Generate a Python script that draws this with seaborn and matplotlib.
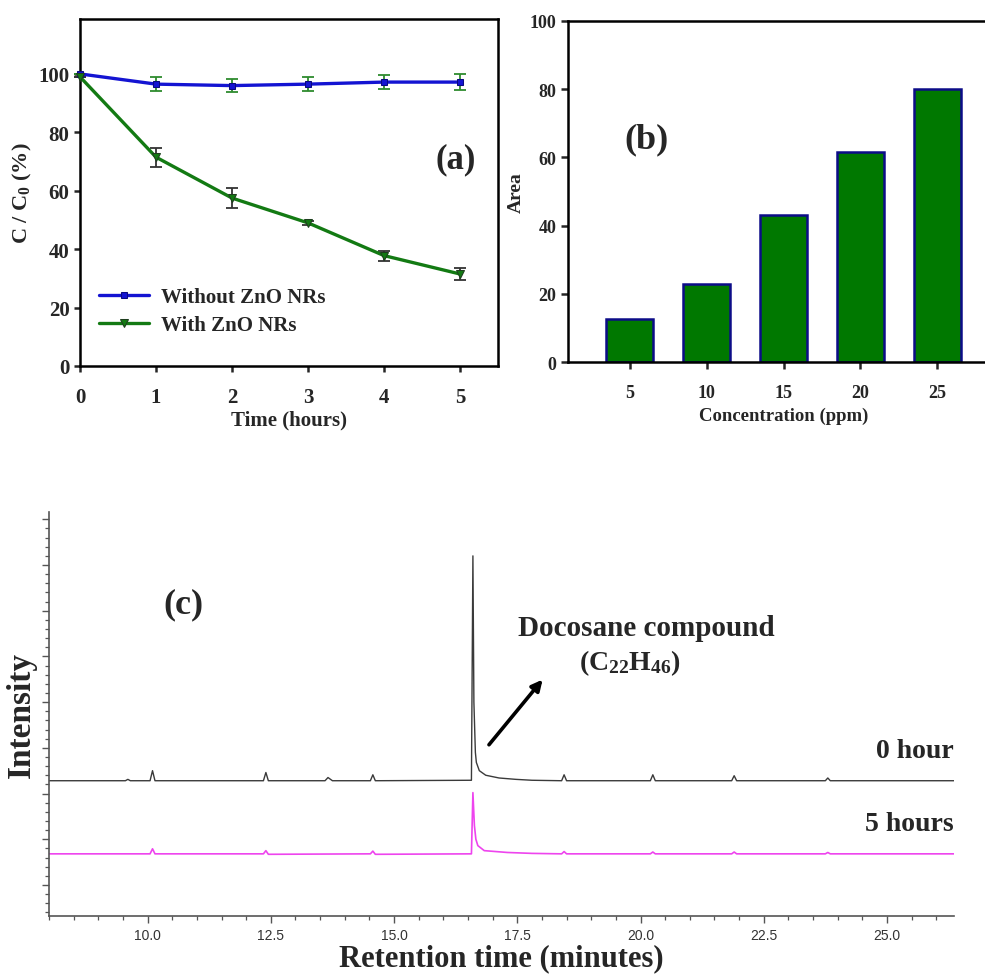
import matplotlib
matplotlib.use("Agg")
import matplotlib.pyplot as plt
from matplotlib.ticker import MultipleLocator, FormatStrFormatter
import seaborn as sns

# (a) photocatalytic degradation
hours = [0, 1, 2, 3, 4, 5]
without_zno = [100, 96.5, 96.0, 96.5, 97.2, 97.2]
without_err = [0, 2.5, 2.3, 2.5, 2.3, 2.7]
with_zno = [99.0, 71.5, 57.5, 49.0, 37.8, 31.5]
with_err = [0, 3.2, 3.5, 0.8, 1.7, 2.2]

# (b) calibration
conc_labels = ["5", "10", "15", "20", "25"]
area = [12.5, 23.0, 43.0, 61.5, 80.0]

# (c) chromatograms (intensity in arbitrary units)
t_0h = [8.0, 9.55, 9.6, 9.65, 10.05, 10.1, 10.15, 12.35, 12.4, 12.45, 13.6, 13.66,
        13.75, 14.52, 14.57, 14.62, 16.57, 16.6, 16.62, 16.65, 16.67, 16.73, 16.86,
        17.13, 17.47, 17.8, 18.4, 18.45, 18.5, 20.2, 20.25, 20.3, 21.85, 21.9, 21.95,
        23.75, 23.8, 23.85, 26.36]
i_0h = [11.4, 11.4, 11.55, 11.4, 11.4, 12.5, 11.4, 11.4, 12.3, 11.4, 11.4, 11.75,
        11.4, 11.4, 12.05, 11.4, 11.45, 36.0, 20.0, 14.5, 13.4, 12.5, 12.0,
        11.7, 11.55, 11.45, 11.4, 12.05, 11.4, 11.4, 12.05, 11.4, 11.4, 11.95, 11.4,
        11.4, 11.7, 11.4, 11.4]
t_5h = [8.0, 10.05, 10.1, 10.15, 12.35, 12.4, 12.45, 14.52, 14.57, 14.62, 16.57,
        16.6, 16.63, 16.66, 16.7, 16.83, 17.3, 17.8, 18.4, 18.45, 18.5, 20.2, 20.25,
        20.3, 21.85, 21.9, 21.95, 23.75, 23.8, 23.85, 26.36]
i_5h = [3.4, 3.4, 3.95, 3.4, 3.4, 3.75, 3.35, 3.4, 3.7, 3.35, 3.4,
        10.1, 6.5, 5.0, 4.3, 3.75, 3.55, 3.45, 3.4, 3.65, 3.4, 3.4, 3.6,
        3.4, 3.4, 3.6, 3.4, 3.4, 3.55, 3.4, 3.4]

sns.set_theme(style="ticks")
plt.rcParams["font.family"] = ["Liberation Serif", "DejaVu Serif"]
plt.rcParams["font.weight"] = "bold"
plt.rcParams["axes.labelweight"] = "bold"
plt.rcParams["mathtext.fontset"] = "custom"
plt.rcParams["mathtext.rm"] = "Liberation Serif:bold"
plt.rcParams["mathtext.it"] = "Liberation Serif:bold"
plt.rcParams["mathtext.bf"] = "Liberation Serif:bold"
plt.rcParams["mathtext.default"] = "rm"

W, H = 985, 979
fig = plt.figure(figsize=(W / 100, H / 100), dpi=100)


def box(l, t, r, b):
    return [l / W, 1 - b / H, (r - l) / W, (b - t) / H]


blue = "#1414d2"
green = "#137a13"

# ---------- (a) ----------
ax = fig.add_axes(box(80, 20, 498, 367))
ax.errorbar(hours, without_zno, yerr=without_err, fmt="none", ecolor="#2e8b2e",
            elinewidth=1.3, capsize=4, capthick=1.3, zorder=2)
ax.errorbar(hours, with_zno, yerr=with_err, fmt="none", ecolor="#333333",
            elinewidth=1.3, capsize=4, capthick=1.3, zorder=2)
sns.lineplot(x=hours, y=without_zno, ax=ax, color=blue, lw=2.4, marker="s",
             markersize=5, markeredgecolor="#0a0a80", label="Without ZnO NRs",
             estimator=None, zorder=3)
sns.lineplot(x=hours, y=with_zno, ax=ax, color=green, lw=2.4, marker="v",
             markersize=6, markeredgecolor="#1e3e1e", label="With ZnO NRs",
             estimator=None, zorder=3)
for ln in ax.lines:
    ln.set_clip_on(False)
ax.set_xlim(0, 5.5)
ax.set_ylim(0, 118.8)
ax.set_xticks(hours)
ax.set_yticks([0, 20, 40, 60, 80, 100])
ax.tick_params(direction="out", length=4, width=1.8, labelsize=15, top=False, right=False)
ax.tick_params(axis="x", pad=11)
for s in ax.spines.values():
    s.set_visible(True)
    s.set_linewidth(1.8)
    s.set_color("black")
ax.set_xlabel("Time (hours)", fontsize=15, labelpad=2)
ax.set_ylabel("C / C$_0$ (%)", fontsize=16, labelpad=3)
ax.text(4.94, 70.9, "(a)", fontsize=25, fontweight="bold", ha="center", va="center")
ax.legend(loc="center left", bbox_to_anchor=(0.045, 0.158), frameon=False,
          fontsize=15, handlelength=2.4, handletextpad=0.6, borderpad=0,
          borderaxespad=0, labelspacing=0.4)

# ---------- (b) ----------
axb = fig.add_axes(box(568, 22, 999, 363))
sns.barplot(x=conc_labels, y=area, ax=axb, color="#007800", saturation=1,
            edgecolor="#0c0c88", linewidth=1.8, width=0.6)
axb.set_xlim(-0.8, 4.8)
axb.set_ylim(0, 100)
axb.set_yticks([0, 20, 40, 60, 80, 100])
axb.tick_params(direction="out", length=5, width=1.8, labelsize=13, top=False, right=False)
axb.tick_params(axis="x", pad=11)
for s in axb.spines.values():
    s.set_visible(True)
    s.set_linewidth(1.8)
    s.set_color("black")
axb.set_xlabel("Concentration (ppm)", fontsize=13.5, labelpad=4)
axb.set_ylabel("Area", fontsize=14, labelpad=3)
axb.text(0.22, 65.4, "(b)", fontsize=26, fontweight="bold", ha="center", va="center")

# ---------- (c) ----------
axc = fig.add_axes(box(49, 513, 954, 917))
sns.lineplot(x=t_0h, y=i_0h, ax=axc, color="#3a3a3a", lw=1.0, estimator=None)
sns.lineplot(x=t_5h, y=i_5h, ax=axc, color="#ee44ee", lw=1.2, estimator=None)
axc.set_xlim(8.0, 26.36)
axc.set_ylim(-3.4, 40.8)
axc.xaxis.set_major_locator(MultipleLocator(2.5))
axc.xaxis.set_minor_locator(MultipleLocator(0.5))
axc.xaxis.set_major_formatter(FormatStrFormatter("%.1f"))
axc.yaxis.set_major_locator(MultipleLocator(5))
axc.yaxis.set_minor_locator(MultipleLocator(1))
axc.set_yticklabels([])
axc.tick_params(which="major", direction="out", length=5, width=1.0, color="#555555")
axc.tick_params(which="minor", direction="out", length=3, width=0.9, color="#555555")
axc.tick_params(axis="x", which="both", bottom=True, labelsize=10, labelcolor="#333333")
axc.tick_params(axis="y", which="both", left=True)
for lab in axc.get_xticklabels():
    lab.set_fontfamily("Liberation Sans")
    lab.set_fontweight("normal")
sns.despine(ax=axc)
for s in ("left", "bottom"):
    axc.spines[s].set_color("#555555")
    axc.spines[s].set_linewidth(1.2)
axc.set_xlabel("Retention time (minutes)", fontsize=22, labelpad=1)
axc.set_ylabel("Intensity", fontsize=24, labelpad=0)

axc.text(10.73, 30.7, "(c)", fontsize=26, fontweight="bold", ha="center", va="center")
axc.text(20.11, 28.2, "Docosane compound", fontsize=21, fontweight="bold",
         ha="center", va="center")
axc.text(19.78, 24.4, "(C$_{22}$H$_{46}$)", fontsize=20, fontweight="bold",
         ha="center", va="center")
axc.text(26.36, 14.7, "0 hour", fontsize=20, fontweight="bold", ha="right", va="center")
axc.text(26.36, 6.7, "5 hours", fontsize=20, fontweight="bold", ha="right", va="center")
axc.annotate("", xy=(18.05, 22.7), xytext=(16.89, 15.1),
             arrowprops=dict(arrowstyle="-|>", lw=2.6, color="black", mutation_scale=16))

fig.savefig("out.png", dpi=100)
